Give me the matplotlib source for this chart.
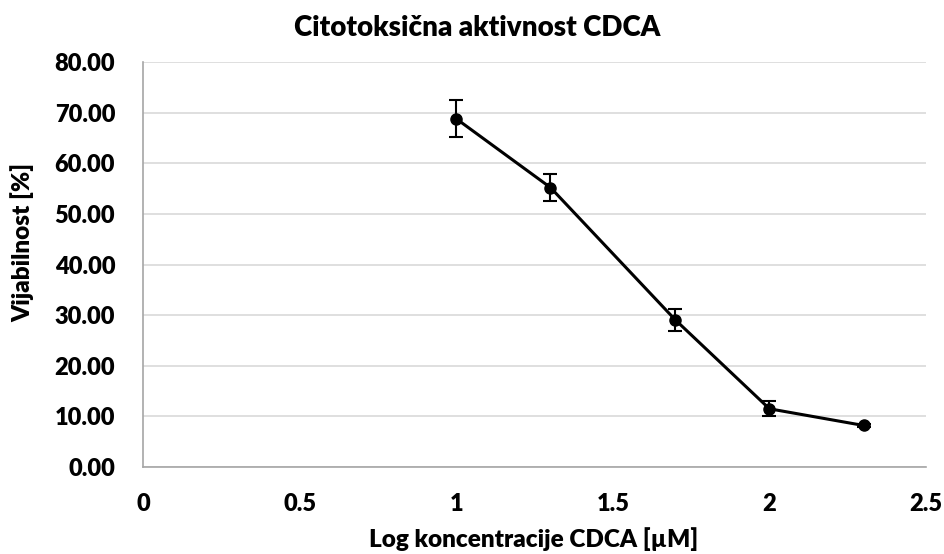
import matplotlib
matplotlib.use("Agg")
import matplotlib.pyplot as plt

# Viability data (log concentration vs. % viable cells, mean ± SD)
log_conc = [1.0, 1.301, 1.699, 2.0, 2.301]
viability = [68.8, 55.2, 29.1, 11.5, 8.2]
viability_sd = [3.6, 2.6, 2.2, 1.45, 0.3]

x_ticks = [0, 0.5, 1, 1.5, 2, 2.5]
y_ticks = [0, 10, 20, 30, 40, 50, 60, 70, 80]

plt.rcParams['font.family'] = ['Lato', 'DejaVu Sans']
plt.rcParams['font.weight'] = 'heavy'

W, H = 945, 554
fig = plt.figure(figsize=(W / 100, H / 100), dpi=100)
ax = fig.add_axes([143 / W, 1 - 467 / H, (926 - 143) / W, (467 - 62) / H])

ax.errorbar(log_conc, viability, yerr=viability_sd, color='black', lw=2.2,
            marker='o', markersize=8, ecolor='black', elinewidth=1.5,
            capsize=5, capthick=1.5, zorder=3)

ax.set_xlim(0, 2.5)
ax.set_ylim(0, 80)
ax.set_xticks(x_ticks)
ax.set_xticklabels([f"{t:g}" for t in x_ticks])
ax.set_yticks(y_ticks)
ax.set_yticklabels([f"{t:.2f}" for t in y_ticks])

ax.grid(axis='y', color='#d9d9d9', lw=1.2)
ax.set_axisbelow(True)
for side in ('top', 'right'):
    ax.spines[side].set_visible(False)
for side in ('left', 'bottom'):
    ax.spines[side].set_color('#a6a6a6')
    ax.spines[side].set_linewidth(1.2)
ax.tick_params(length=0, labelsize=17, pad=0)
ax.tick_params(axis='y', pad=20)
ax.tick_params(axis='x', pad=19)

# Title and axis titles placed in figure pixels
fig.text(477 / W, 1 - 28 / H, "Citotoksična aktivnost CDCA", fontsize=20,
         fontweight='heavy', ha='center', va='center')
fig.text(534 / W, 1 - 539 / H, "Log koncentracije CDCA [µM]", fontsize=17.5,
         fontweight='heavy', ha='center', va='center')
fig.text(22 / W, 1 - 242 / H, "Vijabilnost [%]", fontsize=17.5,
         fontweight='heavy', ha='center', va='center', rotation=90)

fig.savefig("out.png", dpi=100)
